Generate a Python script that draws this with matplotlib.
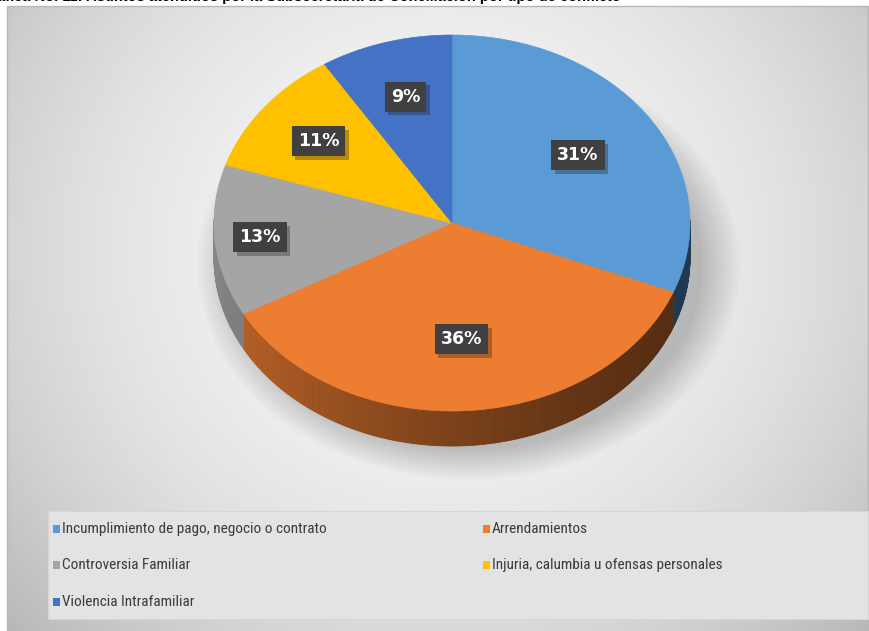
import numpy as np
import matplotlib.pyplot as plt
import matplotlib.patheffects as pe
from matplotlib.patches import Polygon, Rectangle

# Datos
categorias = ['Incumplimiento de pago, negocio o contrato', 'Arrendamientos',
              'Controversia Familiar', 'Injuria, calumbia u ofensas personales',
              'Violencia Intrafamiliar']
porcentajes = [31, 36, 13, 11, 9]
colores = ['#5b9bd5', '#ed7d31', '#a5a5a5', '#ffc000', '#4472c4']
titulo = 'Gráfica No. 11: Asuntos atendidos por la Subsecretaría de Conciliación por tipo de conflicto'

W, H = 870, 631
fig = plt.figure(figsize=(8.7, 6.31), dpi=100)
ax = fig.add_axes([0, 0, 1, 1])

# fondo del area del grafico (degradado radial)
xs = np.arange(7, 868)
ys = np.arange(6, 631)
xx, yy = np.meshgrid(xs, ys)
g = 0.97 - 0.16 * (((xx - 440) / 470.0) ** 2 + ((yy - 250) / 450.0) ** 2)
ax.imshow(np.dstack([g, g, g]), extent=(7, 868, 631, 6), aspect='auto', zorder=0)
ax.add_patch(Rectangle((7, 6), 861, 630, fill=False, ec='#b8b8b8', lw=1, zorder=1))

# titulo (cortado en el borde superior)
ax.text(-20, 1.5, titulo, fontsize=10.5, fontweight='bold', family='Liberation Sans',
        va='baseline', ha='left', color='black', zorder=5)

# geometria del pastel 3D
cx, cy, rx, ry, prof = 452, 223, 238, 188, 35

def punto(t, dy=0):
    t = np.radians(t)
    return cx + rx * np.cos(t), cy - ry * np.sin(t) + dy

# sombra
sx, sy = np.meshgrid(np.arange(W), np.arange(H))
r = np.sqrt(((sx - cx - 16) / (rx + 4.0)) ** 2 + ((sy - cy - prof - 8) / (ry + 2.0)) ** 2)
alfa = 0.22 * np.clip((1.13 - r) / 0.17, 0, 1)
sombra = np.zeros((H, W, 4))
sombra[..., 3] = alfa
ax.imshow(sombra, extent=(0, W, H, 0), aspect='auto', zorder=2)

frac = np.array(porcentajes) / float(sum(porcentajes))
bordes = 90 - 360 * np.concatenate([[0], np.cumsum(frac)])

# paredes laterales
for i, c in enumerate(colores):
    base = np.array(plt.matplotlib.colors.to_rgb(c))
    ts = np.arange(bordes[i], bordes[i + 1] - 0.5, -0.5)
    ts = np.clip(ts, bordes[i + 1], bordes[i])
    for a, b in zip(ts[:-1], ts[1:]):
        m = np.radians((a + b) / 2)
        if np.sin(m) > 0.02:
            continue
        f = 0.60 - 0.22 * np.cos(m) - 0.08 * (-np.sin(m))
        col = np.clip(base * f, 0, 1)
        p1, p2 = punto(a), punto(b)
        p3, p4 = punto(b, prof), punto(a, prof)
        ax.add_patch(Polygon([p1, p2, p3, p4], closed=True, fc=col, ec=col, lw=0.6, zorder=3))

# caras superiores
for i, c in enumerate(colores):
    ts = np.linspace(bordes[i], bordes[i + 1], 120)
    pts = [(cx, cy)] + [punto(t) for t in ts]
    ax.add_patch(Polygon(pts, closed=True, fc=c, ec=c, lw=0.5, zorder=4))

# etiquetas de datos
lbl_r = [0.64, 0.62, 0.81, 0.71, 0.70]
for i, v in enumerate(porcentajes):
    t = np.radians((bordes[i] + bordes[i + 1]) / 2)
    x = cx + lbl_r[i] * rx * np.cos(t)
    y = cy - lbl_r[i] * ry * np.sin(t)
    txt = ax.text(x, y, '%d%%' % v, ha='center', va='center', color='white',
                  fontsize=12.5, fontweight='bold', family='DejaVu Sans', zorder=6,
                  bbox=dict(boxstyle='square,pad=0.35', fc='#404040', ec='none'))
    txt.get_bbox_patch().set_path_effects(
        [pe.SimplePatchShadow(offset=(2.5, -2.5), alpha=0.3), pe.Normal()])

# leyenda
ax.add_patch(Rectangle((48, 511), 820, 108, fc='#e3e3e3', ec='#d6d6d6', lw=0.8, zorder=5))
col_x = [53, 483]
fila_y = [529, 565, 602]
for i, (cat, c) in enumerate(zip(categorias, colores)):
    x = col_x[i % 2]
    y = fila_y[i // 2]
    ax.add_patch(Rectangle((x, y - 4), 7, 8, fc=c, ec='none', zorder=6))
    ax.text(x + 9, y, cat, ha='left', va='center', color='#3a3a3a', fontsize=11,
            family=['Liberation Sans Narrow', 'Roboto Condensed', 'Roboto'],
            fontstretch='condensed', zorder=6)

ax.set_xlim(0, W)
ax.set_ylim(H, 0)
ax.axis('off')
fig.savefig('out.png', dpi=100)
